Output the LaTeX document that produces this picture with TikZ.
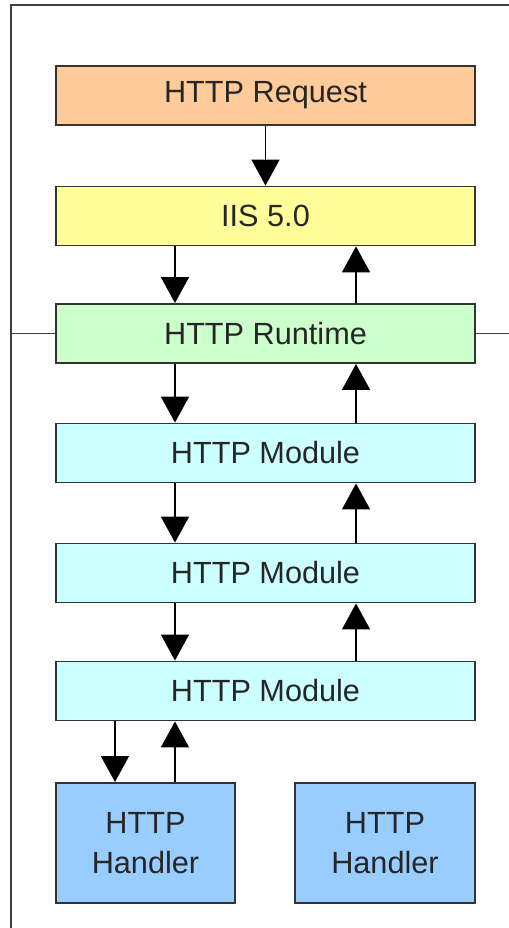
\documentclass[tikz,border=0pt]{standalone}
\usepackage{fontspec}
\setmainfont{Liberation Sans}
\usetikzlibrary{arrows.meta}
\tikzset{box/.style = {draw=black!80, line width=1.4pt, rectangle, inner sep=0pt, minimum width=314.25pt, minimum height=44.25pt, font=\fontsize{23}{30}\selectfont, text=black!85},
         hbox/.style = {box, fill=hcol, minimum width=134.5pt, minimum height=90pt, align=center},
         arr/.style = {-{Triangle[width=21pt,length=19.5pt]}, line width=1.1pt}}
\definecolor{reqcol}{HTML}{FFCC99}
\definecolor{iiscol}{HTML}{FFFF99}
\definecolor{rtcol}{HTML}{CCFFCC}
\definecolor{modcol}{HTML}{CCFFFF}
\definecolor{hcol}{HTML}{99CCFF}
\begin{document}
\begin{tikzpicture}[x=0.75pt,y=-0.75pt]
    \useasboundingbox (0,0) rectangle (509,928);
    % frame
    \draw[black!75, line width=1.5pt](509,5)--(11,5)--(11,928);

    \node[box, fill=reqcol](req)at(265.5,95.5){HTTP Request};
    \node[box, fill=iiscol](iis)at(265.5,216){IIS 5.0};
    \node[box, fill=rtcol](rt)at(265.5,333.5){HTTP Runtime};
    \node[box, fill=modcol](m1)at(265.5,453){HTTP Module};
    \node[box, fill=modcol](m2)at(265.5,573){HTTP Module};
    \node[box, fill=modcol](m3)at(265.5,691){HTTP Module};
    \node[hbox](h1)at(145.5,843){HTTP\\Handler};
    \node[hbox](h2)at(385,843){HTTP\\Handler};

    \coordinate(fl)at(11,333.5);
    \coordinate(fr)at(509,333.5);
    \draw[black!75, line width=1.2pt](fl)--(rt.west);
    \draw[black!75, line width=1.2pt](rt.east)--(fr);

    \draw[arr](req.south)--(iis.north);
    \foreach \a/\b in {iis/rt, rt/m1, m1/m2, m2/m3}{
        \draw[arr]([xshift=-67.9pt]\a.south)--([xshift=-67.9pt]\b.north);
        \draw[arr]([xshift=67.9pt]\b.north)--([xshift=67.9pt]\a.south);
    }
    \draw[arr]([xshift=-22.9pt]h1.north|-m3.south)--([xshift=-22.9pt]h1.north);
    \draw[arr]([xshift=22.1pt]h1.north)--([xshift=22.1pt]h1.north|-m3.south);
\end{tikzpicture}
\end{document}
